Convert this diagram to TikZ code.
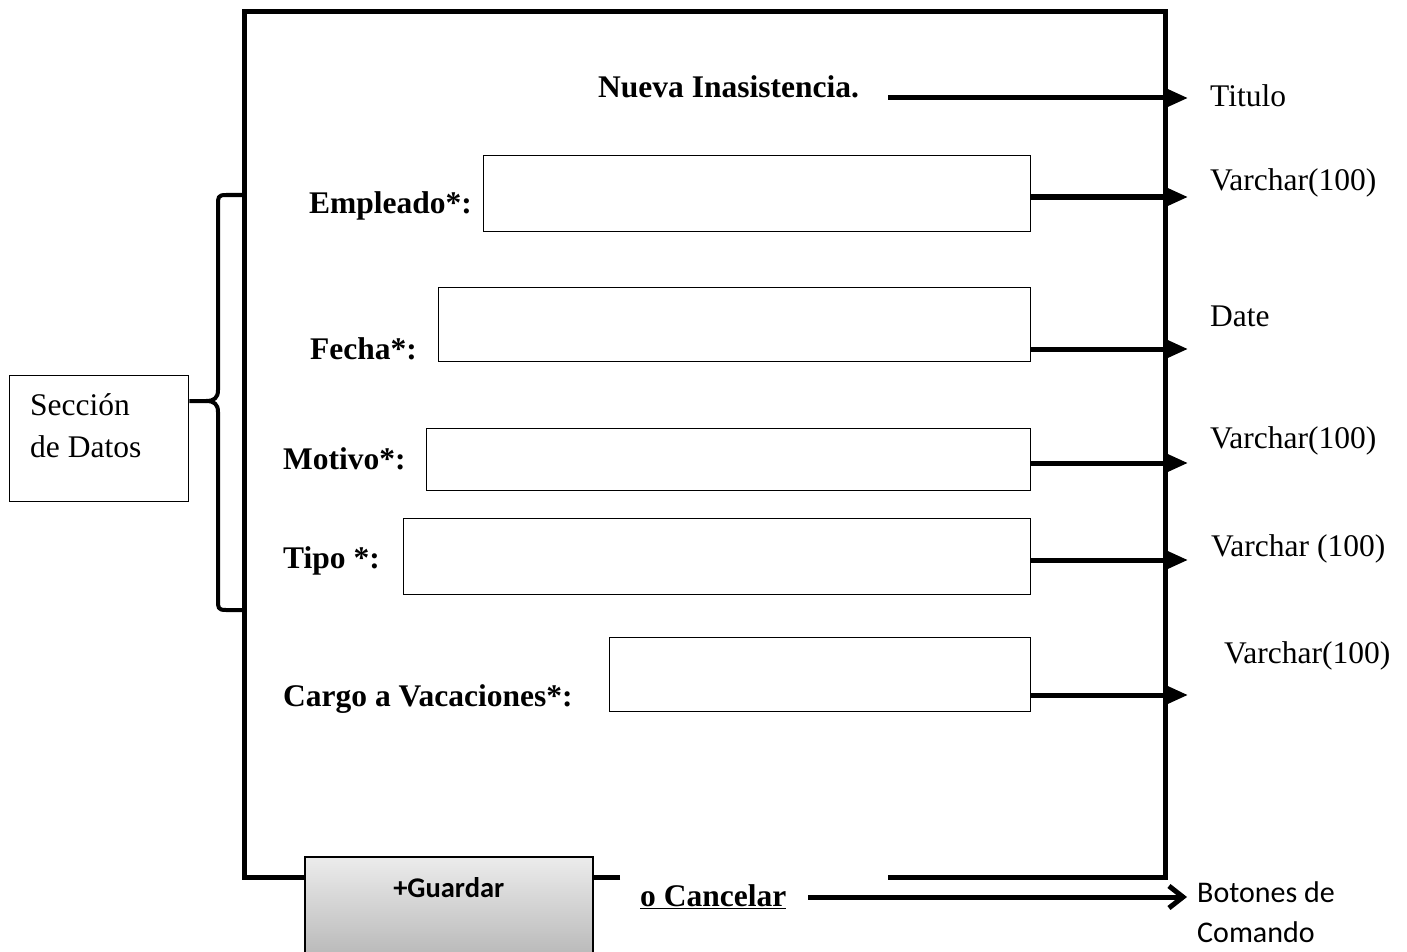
\documentclass[tikz,border=0pt]{standalone}
\usepackage{fontspec}
\setmainfont{Liberation Serif}
\newfontfamily\calib{Carlito}
\usetikzlibrary{arrows.meta}
\begin{document}
\begin{tikzpicture}[x=1pt,y=-1pt,
  field/.style={draw,line width=1.3pt,anchor=north west,inner sep=0pt},
  lbl/.style={anchor=base west,inner sep=0pt,font=\fontsize{31.5}{36}\selectfont\bfseries},
  typ/.style={anchor=base west,inner sep=0pt,font=\fontsize{31.5}{36}\selectfont},
  ctyp/.style={anchor=base west,inner sep=0pt,font=\calib\fontsize{30}{36}\selectfont},
  conn/.style={line width=5pt,-{Triangle[length=22pt,width=18pt]}},
  frame/.style={line width=5pt},
]
\useasboundingbox (0,0) rectangle (1407,952);
% main frame
\draw[frame,line cap=butt] (620,877) -- (244,877) -- (244,12) -- (1165,12) -- (1165,877) -- (888,877);
% fields
\node[field,minimum width=547pt,minimum height=76pt] (emp) at (483,155) {};
\node[field,minimum width=592pt,minimum height=74pt] (fec) at (438,287) {};
\node[field,minimum width=604pt,minimum height=62pt] (mot) at (426,428) {};
\node[field,minimum width=627pt,minimum height=76pt] (tip) at (403,518) {};
\node[field,minimum width=421pt,minimum height=74pt] (car) at (609,637) {};
% labels
\node[lbl] (tit) at (598,98) {Nueva Inasistencia.};
\node[lbl] at (309,213) {Empleado*:};
\node[lbl] at (310,359) {Fecha*:};
\node[lbl] at (283,469) {Motivo*:};
\node[lbl] at (283,568) {Tipo *:};
\node[lbl] at (283,706) {Cargo a Vacaciones*:};
% type labels
\node[typ] at (1210,107) {Titulo};
\node[typ] at (1210,190) {Varchar(100)};
\node[typ] at (1210,326) {Date};
\node[typ] at (1210,448) {Varchar(100)};
\node[typ] at (1211,556) {Varchar (100)};
\node[typ] at (1224,663) {Varchar(100)};
% arrow targets
\coordinate (t0) at (1188,98);
\coordinate (t1) at (1188,197);
\coordinate (t2) at (1188,349);
\coordinate (t3) at (1188,463);
\coordinate (t4) at (1188,560);
\coordinate (t5) at (1188,695);
\coordinate (s0) at (888,98);
\draw[conn] (s0) -- (t0);
\draw[conn] (emp.east |- t1) -- (t1);
\draw[conn] (fec.east |- t2) -- (t2);
\draw[conn] (mot.east |- t3) -- (t3);
\draw[conn] (tip.east |- t4) -- (t4);
\draw[conn] (car.east |- t5) -- (t5);
% seccion box
\node[draw,line width=1.3pt,anchor=north west,minimum width=179pt,minimum height=126pt,inner sep=0pt] (sec) at (9,375) {};
\node[typ] at (30,415) {Sección};
\node[typ] at (30,457) {de Datos};
% brace
\draw[line width=4pt,line join=round] (244,195) -- (226,195) .. controls (218,195) and (218,197) .. (218,205) -- (218,390) .. controls (218,398) and (214,401) .. (206,401) -- (sec.east |- 0,401);
\draw[line width=4pt,line join=round] (206,401) .. controls (214,401) and (218,404) .. (218,412) -- (218,600) .. controls (218,608) and (218,610) .. (226,610) -- (244,610);
% buttons
\node[draw,line width=1.5pt,anchor=north west,minimum width=288pt,minimum height=100pt,inner sep=0pt,top color=gray!15,bottom color=gray!55] (gua) at (304,856) {};
\node[anchor=base,inner sep=0pt,font=\calib\fontsize{28.5}{32}\selectfont\bfseries] at (gua.north |- 0,897) {+Guardar};
\node[anchor=base west,inner sep=0pt,font=\fontsize{31.5}{36}\selectfont\bfseries] (can) at (640,906) {\underline{o Cancelar}};
\coordinate (t6) at (1187,897);
\draw[line width=5pt,-{Straight Barb[length=14pt,width=22pt,line width=5pt]}] (808,897) -- (t6);
\node[ctyp] at (1197,902) {Botones de};
\node[ctyp] at (1197,942) {Comando};
\end{tikzpicture}
\end{document}
